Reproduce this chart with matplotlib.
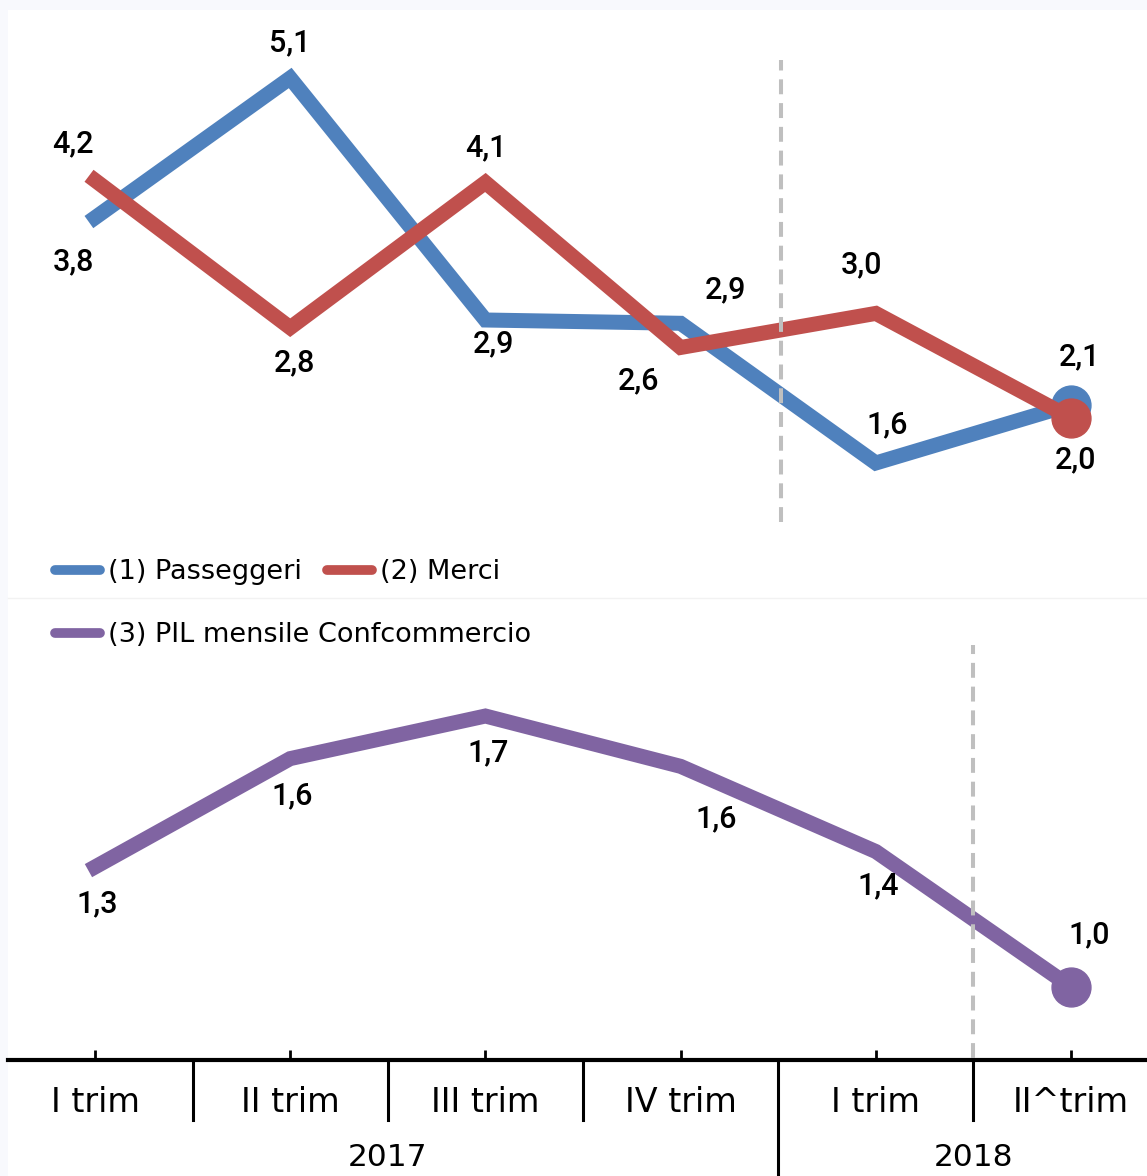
import numpy as np
import matplotlib
matplotlib.use('Agg')
from matplotlib import pyplot as plt
from matplotlib.lines import Line2D
import matplotlib.transforms as mtransforms

# dati
trimestri = ['I trim', 'II trim', 'III trim', 'IV trim', 'I trim', 'II^trim']
anni = ['2017', '2018']
anni_pos = [1.5, 4.5]
passeggeri = [3.83, 5.1, 2.90, 2.87, 1.60, 2.13]
merci = [4.17, 2.83, 4.15, 2.65, 2.96, 2.01]
pil = [1.31, 1.59, 1.70, 1.57, 1.35, 1.00]
lab_passeggeri = ['3,8', '5,1', '2,9', '2,9', '1,6', '2,1']
lab_merci = ['4,2', '2,8', '4,1', '2,6', '3,0', '2,0']
lab_pil = ['1,3', '1,6', '1,7', '1,6', '1,4', '1,0']

# spostamenti etichette (pixel)
off_pass = [(-22, -44), (0, 35), (8, -24), (45, 33), (11, 38), (8, 48)]
off_merci = [(-22, 36), (4, -35), (0, 35), (-42, -33), (-14, 49), (5, -42)]
off_pil = [(2, -37), (2, -37), (3, -37), (36, -52), (2, -34), (18, 52)]

BLU = '#4f81bd'
ROSSO = '#c0504d'
VIOLA = '#8064a2'
GRIGIO = '#bfbfbf'

plt.rcParams['font.family'] = ['Roboto', 'DejaVu Sans']
FONT_ASSE = ['DejaVu Sans']

W, H = 1147, 1176
fig = plt.figure(figsize=(W / 100, H / 100), dpi=100)
fig.patch.set_facecolor('#f8f9fd')
sfondo = plt.Rectangle((8 / W, 0), 1, 1 - 10 / H, transform=fig.transFigure,
                       facecolor='white', edgecolor='none', zorder=-10)
fig.add_artist(sfondo)

x = np.arange(len(trimestri))
xlim = ((8 - 95) / 195.2, (W - 95) / 195.2)
px = 0.72

# ---- grafico sopra
ax1 = fig.add_axes([8 / W, 1 - 598 / H, 1 - 8 / W, (598 - 10) / H])
ax1.set_xlim(*xlim)
ax1.set_ylim(5.1 - 520 / 110, 5.1 + 68 / 110)
ax1.axis('off')
ax1.patch.set_alpha(0)

ax1.plot(x, passeggeri, color=BLU, lw=10.8, solid_joinstyle='miter', label='(1) Passeggeri', zorder=3)
ax1.plot(x, merci, color=ROSSO, lw=10.8, solid_joinstyle='miter', label='(2) Merci', zorder=4)
ax1.plot(x[-1], passeggeri[-1], 'o', color=BLU, ms=28, zorder=3)
ax1.plot(x[-1], merci[-1], 'o', color=ROSSO, ms=28, zorder=4)
ax1.plot([3.515, 3.515], [0.129, 0.915], transform=mtransforms.blended_transform_factory(ax1.transData, ax1.transAxes),
         color=GRIGIO, lw=2.9, dashes=(3.7, 2.2), zorder=5)

for i in range(len(x)):
    ax1.annotate(lab_passeggeri[i], (x[i], passeggeri[i]), xytext=(off_pass[i][0] * px, off_pass[i][1] * px),
                 textcoords='offset points', ha='center', va='center', fontsize=22, fontweight='medium')
    ax1.annotate(lab_merci[i], (x[i], merci[i]), xytext=(off_merci[i][0] * px, off_merci[i][1] * px),
                 textcoords='offset points', ha='center', va='center', fontsize=22, fontweight='medium')

leg1 = ax1.legend(loc='center left', bbox_to_anchor=(55 / W, 1 - 572 / H), bbox_transform=fig.transFigure,
                  ncol=2, frameon=False, prop={'family': FONT_ASSE, 'size': 19.5}, handlelength=1.65,
                  handletextpad=0.3, columnspacing=0.95, borderpad=0, borderaxespad=0)
for l in leg1.get_lines():
    l.set_linewidth(7)
    l.set_solid_capstyle('round')

fig.add_artist(Line2D([8 / W, 1], [1 - 598 / H, 1 - 598 / H], transform=fig.transFigure, color='#f2f2f2', lw=1))

# ---- grafico sotto
ax2 = fig.add_axes([8 / W, 1 - 1060 / H, 1 - 8 / W, (1060 - 598) / H])
ax2.set_xlim(*xlim)
ax2.set_ylim(1.0 - 73 / 387, 1.7 + 118 / 387)
ax2.patch.set_alpha(0)
for s in ['top', 'left', 'right']:
    ax2.spines[s].set_visible(False)
ax2.spines['bottom'].set_linewidth(3)
ax2.set_yticks([])
ax2.set_xticks(x)
ax2.set_xticklabels(trimestri, fontsize=24, family=FONT_ASSE)
ax2.tick_params(axis='x', direction='in', length=7, width=2, pad=19)

ax2.plot(x, pil, color=VIOLA, lw=10.8, solid_joinstyle='miter', label='(3) PIL mensile Confcommercio', zorder=3)
ax2.plot(x[-1], pil[-1], 'o', color=VIOLA, ms=28, zorder=3)
tr2 = mtransforms.blended_transform_factory(ax2.transData, ax2.transAxes)
ax2.plot([4.5, 4.5], [0.004, 0.898], transform=tr2, color=GRIGIO, lw=2.9, dashes=(3.7, 2.2), zorder=5)

for i in range(len(x)):
    ax2.annotate(lab_pil[i], (x[i], pil[i]), xytext=(off_pil[i][0] * px, off_pil[i][1] * px),
                 textcoords='offset points', ha='center', va='center', fontsize=22, fontweight='medium')

leg2 = ax2.legend(loc='center left', bbox_to_anchor=(55 / W, 1 - 635 / H), bbox_transform=fig.transFigure,
                  frameon=False, prop={'family': FONT_ASSE, 'size': 19.5}, handlelength=1.65,
                  handletextpad=0.3, borderpad=0, borderaxespad=0)
for l in leg2.get_lines():
    l.set_linewidth(7)
    l.set_solid_capstyle('round')

# separatori categorie e anni
for b in [0.5, 1.5, 2.5, 4.5]:
    ax2.plot([b, b], [0, -0.13], transform=tr2, color='black', lw=2.2, clip_on=False)
ax2.plot([3.5, 3.5], [0, -0.26], transform=tr2, color='black', lw=2.2, clip_on=False)
for a, p in zip(anni, anni_pos):
    ax2.text(p, -(1158 - 1060) / 462, a, transform=tr2, ha='center', va='center', fontsize=22.5, family=FONT_ASSE)

fig.savefig('out.png', dpi=100, facecolor=fig.get_facecolor())
